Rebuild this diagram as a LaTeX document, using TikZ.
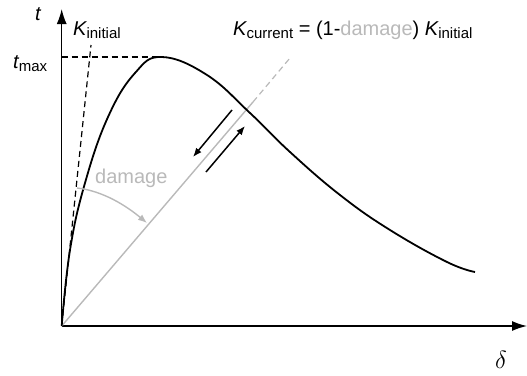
\documentclass[tikz,border=0pt]{standalone}
\usepackage{fontspec}
\setmainfont{Liberation Sans}
\usetikzlibrary{arrows.meta}
\definecolor{dmg}{RGB}{185,185,185}
\newcommand\subtxt[1]{\raisebox{-3.5pt}{\fontsize{15}{15}\selectfont #1}}
\tikzset{
  lbl/.style={inner sep=0pt, font=\fontsize{20}{24}\selectfont},
  axis/.style={line width=1.4pt, -{Latex[length=15pt,width=10pt]}},
  curve/.style={line width=1.8pt, line join=round},
  blackdash/.style={line width=1.2pt, dash pattern=on 6pt off 4pt},
  grayline/.style={dmg, line width=1.4pt},
  graydash/.style={dmg, line width=1.2pt, dash pattern=on 6pt off 4pt},
  cyc/.style={line width=1.5pt, -{Latex[length=9pt,width=7pt]}},
  dmgarc/.style={dmg, line width=1.4pt, -{Latex[length=9pt,width=7pt]}}
}
\begin{document}
\begin{tikzpicture}[x=1pt,y=-1pt]
\useasboundingbox (0,0) rectangle (527,375);
% coordinates
\coordinate (O) at (61.7,326);
\coordinate (ytop) at (61.7,9);
\coordinate (xend) at (527,326);
\coordinate (tmaxL) at (61.7,57);
\coordinate (peak) at (163,57);
\coordinate (kinitEnd) at (91,45);
\coordinate (gsolid) at (253,102);
\coordinate (gend) at (290,58);
\coordinate (a1s) at (232,110);
\coordinate (a1e) at (193,157);
\coordinate (a2s) at (206,172);
\coordinate (a2e) at (245,126);
\coordinate (arcS) at (77,188);
\coordinate (arcE) at (147,223);
% axes
\draw[axis] (O) -- (ytop);
\draw[axis] (O) -- (xend);
% dashed lines
\draw[blackdash] (tmaxL) -- (peak);
\draw[blackdash] (O) -- (kinitEnd);
% gray secant line
\draw[grayline] (O) -- (gsolid);
\draw[graydash] (gsolid) -- (gend);
% traction-separation curve
\draw[curve] plot[smooth, tension=0.7] coordinates {
 (61.7,326) (70,250) (85,183) (108,117) (135,73) (162,57) (207,75)
 (250,113) (290,152) (340,195) (390,230) (447,262) (475,272)};
% loading/unloading arrows
\draw[cyc] (a1s) -- (a1e);
\draw[cyc] (a2s) -- (a2e);
% damage arc
\draw[dmgarc] (arcS) .. controls (103.3,190.9) and (126.6,206.1) .. (arcE);
% labels
\node[lbl, anchor=base] (tlab) at (38,20) {\itshape t};
\node[lbl, anchor=base west] (kinit) at (73,35) {\itshape K\upshape\subtxt{initial}};
\node[lbl, anchor=base west] (tmax) at (13,68) {\itshape t\upshape\subtxt{max}};
\node[lbl, anchor=base west, text=dmg] (dmglab) at (95,183) {damage};
\node[lbl, anchor=base west] (kcur) at (233,35) {\itshape K\upshape\subtxt{current} = (1-\textcolor{dmg}{damage}) \itshape K\upshape\subtxt{initial}};
\node[inner sep=0pt, font=\fontsize{25}{28}\selectfont] (dlab) at (501,360) {$\delta$};
\end{tikzpicture}
\end{document}
